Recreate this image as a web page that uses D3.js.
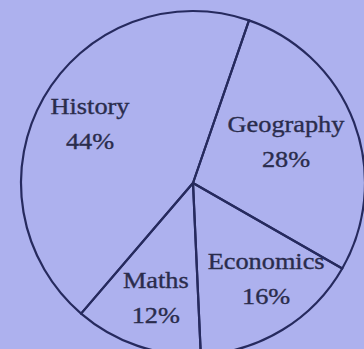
<!DOCTYPE html>
<html>
<head>
<meta charset="utf-8">
<script src="https://cdn.jsdelivr.net/npm/d3@7"></script>
<style>
  html, body { margin: 0; padding: 0; background: #adb1ee; }
  svg { display: block; }
</style>
</head>
<body>
<div id="chart"></div>
<script>
  // slices in clockwise order, starting at the line near 12 o'clock
  var subjects = ["Geography", "Economics", "Maths", "History"]
  var percents = [28, 16, 12, 44]

  var width = 364, height = 349
  var cx = 193, cy = 183, radius = 172
  var startDeg = 19

  // where each label block sits: fraction of radius, angle nudge in degrees
  var labelPlace = {
    "Geography": [0.59, -3],
    "Economics": [0.70, -6],
    "Maths":     [0.70, -1],
    "History":   [0.69, 0]
  }

  var lineColor = "#262a5e"
  var textColor = "#2a2c4c"

  var svg = d3.select("#chart").append("svg")
      .attr("width", width).attr("height", height)

  svg.append("rect").attr("width", width).attr("height", height).attr("fill", "#adb1ee")

  var rows = subjects.map(function(s, i) { return {name: s, value: percents[i]} })

  var start = startDeg * Math.PI / 180
  var pie = d3.pie().sort(null).value(function(d) { return d.value })
      .startAngle(start).endAngle(start + 2 * Math.PI)

  var arc = d3.arc().innerRadius(0).outerRadius(radius)

  var g = svg.append("g").attr("transform", "translate(" + cx + "," + cy + ")")

  g.selectAll("path.slice")
    .data(pie(rows))
    .enter().append("path")
    .attr("class", "slice")
    .attr("d", arc)
    .attr("fill", "none")
    .attr("stroke", lineColor)
    .attr("stroke-width", 2.2)
    .attr("stroke-linejoin", "round")

  var labels = g.selectAll("g.label")
    .data(pie(rows))
    .enter().append("g")
    .attr("class", "label")
    .attr("transform", function(d) {
      var p = labelPlace[d.data.name]
      var a = (d.startAngle + d.endAngle) / 2 + p[1] * Math.PI / 180
      var r = radius * p[0]
      return "translate(" + (r * Math.sin(a)) + "," + (-r * Math.cos(a)) + ")"
    })

  function styleText(sel) {
    sel.attr("text-anchor", "middle")
      .attr("transform", "scale(1.17,1)")
      .attr("font-family", "'Liberation Serif', 'DejaVu Serif', serif")
      .attr("font-size", 22.5)
      .attr("fill", textColor)
      .attr("stroke", textColor)
      .attr("stroke-width", 0.35)
  }

  labels.append("text")
    .attr("y", -10)
    .call(styleText)
    .text(function(d) { return d.data.name })

  labels.append("text")
    .attr("y", 25)
    .call(styleText)
    .text(function(d) { return d.data.value + "%" })
</script>
</body>
</html>
